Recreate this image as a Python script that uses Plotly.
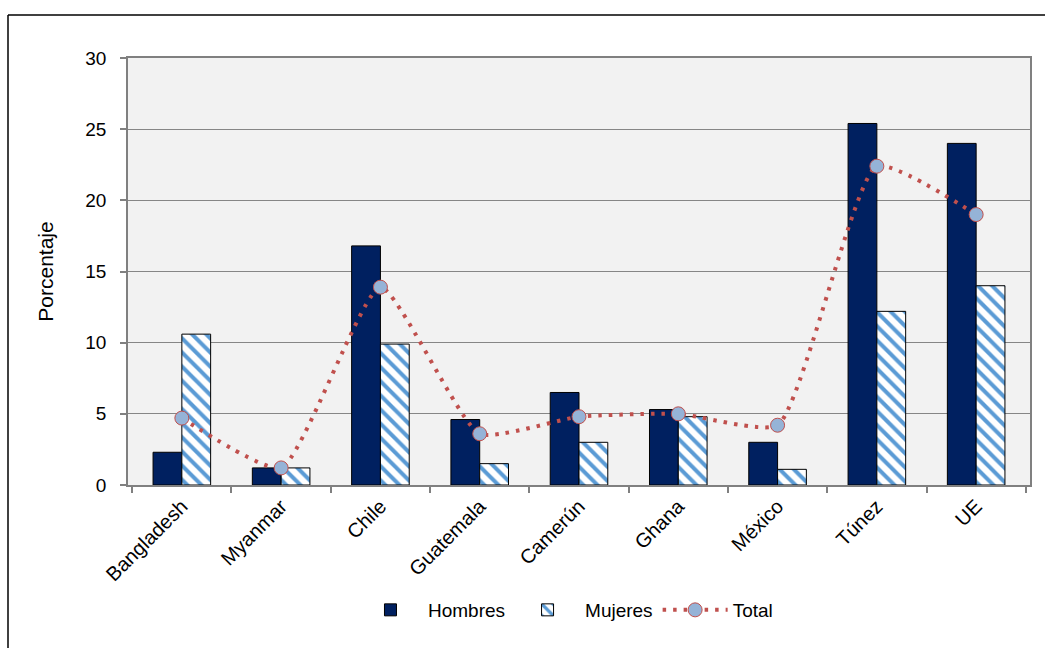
import plotly.graph_objects as go

# Share of workers by country, split by sex, with overall total
paises = ["Bangladesh", "Myanmar", "Chile", "Guatemala", "Camerún",
          "Ghana", "México", "Túnez", "UE"]
hombres = [2.3, 1.2, 16.8, 4.6, 6.5, 5.3, 3.0, 25.4, 24.0]
mujeres = [10.6, 1.2, 9.9, 1.5, 3.0, 4.8, 1.1, 12.2, 14.0]
total = [4.7, 1.2, 13.9, 3.6, 4.8, 5.0, 4.2, 22.4, 19.0]
y_ticks = [0, 5, 10, 15, 20, 25, 30]

FONT = "Liberation Sans, Arial, sans-serif"

fig = go.Figure()

fig.add_trace(go.Bar(
    name="Hombres", x=paises, y=hombres,
    marker=dict(color="#002060", line=dict(color="#000000", width=1)),
))
fig.add_trace(go.Bar(
    name="Mujeres", x=paises, y=mujeres,
    marker=dict(
        color="#FFFFFF",
        line=dict(color="#000000", width=1),
        pattern=dict(shape="\\", fgcolor="#5B9BD5", bgcolor="#FFFFFF",
                     size=10, solidity=0.4, fillmode="replace"),
    ),
))
fig.add_trace(go.Scatter(
    name="Total", x=paises, y=total, mode="lines+markers",
    line=dict(color="#C0504D", width=4, dash="3.5px,7px", shape="spline",
              smoothing=0.5),
    marker=dict(size=14, color="#95B3D7",
                line=dict(color="#C0504D", width=1)),
))

# Plot area geometry (pixels)
L, R, T, B = 128, 1030, 58, 485
W, H = 1045, 648
pw, ph = R - L, B - T

def px_x(x):
    return (x - L) / pw

def px_y(y):
    return (B - y) / ph

# Outer frame (left and top edges)
frame = dict(color="#000000", width=1.5)
shapes = [
    dict(type="line", xref="paper", yref="paper",
         x0=px_x(8), x1=px_x(8), y0=px_y(15), y1=px_y(H + 5), line=frame),
    dict(type="line", xref="paper", yref="paper",
         x0=px_x(8), x1=px_x(W + 5), y0=px_y(15), y1=px_y(15), line=frame),
]

fig.update_layout(
    width=W, height=H, autosize=False,
    margin=dict(l=L, r=W - R, t=T, b=H - B),
    paper_bgcolor="#FFFFFF", plot_bgcolor="#F2F2F2",
    barmode="group", bargap=0.42, bargroupgap=0,
    font=dict(family=FONT, size=19, color="#000000"),
    showlegend=True,
    legend=dict(orientation="h", x=0.485, xanchor="center",
                y=px_y(610), yanchor="middle",
                font=dict(family=FONT, size=19, color="#000000"),
                bgcolor="rgba(0,0,0,0)", itemwidth=65),
    shapes=shapes,
)

fig.update_xaxes(
    type="category", tickson="boundaries", ticks="outside", ticklen=6,
    tickcolor="#808080", tickwidth=1.5,
    tickangle=-45, tickfont=dict(family=FONT, size=20),
    showline=True, linecolor="#808080", linewidth=1.5, mirror=True,
    showgrid=False,
)
fig.update_yaxes(
    range=[0, 30], tickvals=y_ticks, ticks="outside", ticklen=6,
    tickcolor="#808080", tickwidth=1.5, ticklabelstandoff=10,
    tickfont=dict(family=FONT, size=19),
    showline=True, linecolor="#808080", linewidth=1.5, mirror=True,
    showgrid=True, gridcolor="#868686", gridwidth=1, zeroline=False,
    title=dict(text="Porcentaje", font=dict(family=FONT, size=21),
               standoff=26),
)

fig.write_html("out.html")
